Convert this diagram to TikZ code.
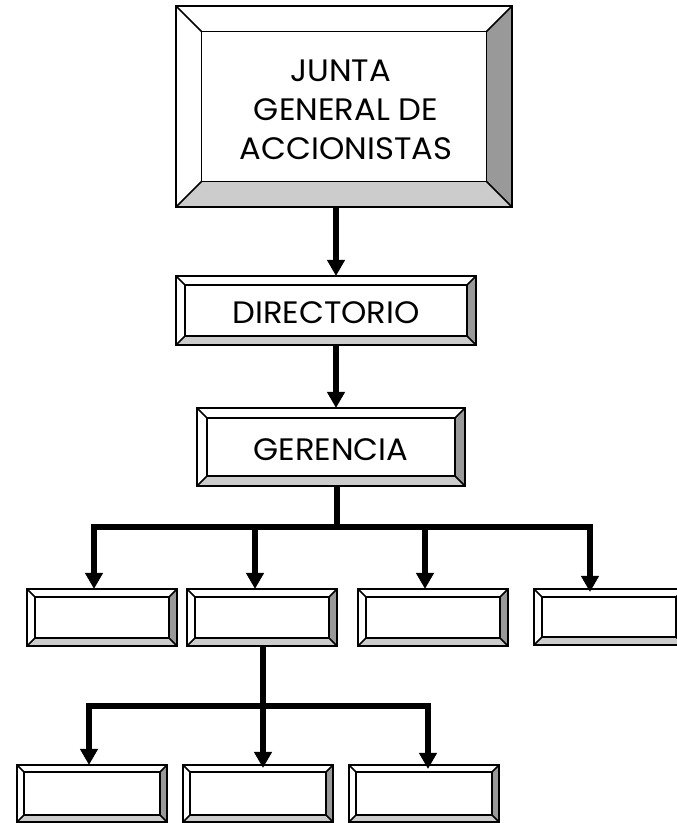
\documentclass[tikz,border=0pt]{standalone}
\usepackage{fontspec}
\setmainfont{Poppins}[FakeStretch=1.04]
\usetikzlibrary{arrows.meta,calc}
\definecolor{bevdark}{HTML}{999999}
\definecolor{bevlight}{HTML}{CCCCCC}
\tikzset{
  edge/.style={draw=black, line width=1.5pt, line join=miter},
  bbox/.style={draw=black, line width=1.5pt, fill=white, inner sep=0pt, outer sep=0pt},
  lbl/.style={inner sep=0pt, align=center, font=\fontsize{31}{38.8}\selectfont},
  conn/.style={line width=5.5pt, draw=black},
  arr/.style={conn, -{Triangle[width=17pt,length=16pt]}},
}
\newcommand\bevelfaces[2]{%
  \fill[bevdark] (#1.north east) -- (#1.south east) -- ($(#1.south east)+(-#2,#2)$) -- ($(#1.north east)+(-#2,-#2)$) -- cycle;
  \fill[bevlight] (#1.south west) -- (#1.south east) -- ($(#1.south east)+(-#2,#2)$) -- ($(#1.south west)+(#2,#2)$) -- cycle;
  \draw[edge] ($(#1.south west)+(#2,#2)$) rectangle ($(#1.north east)+(-#2,-#2)$);
  \draw[edge] (#1.north west) -- ($(#1.north west)+(#2,-#2)$);
  \draw[edge] (#1.north east) -- ($(#1.north east)+(-#2,-#2)$);
  \draw[edge] (#1.south west) -- ($(#1.south west)+(#2,#2)$);
  \draw[edge] (#1.south east) -- ($(#1.south east)+(-#2,#2)$);
  \draw[edge] (#1.south west) rectangle (#1.north east);
}
\begin{document}
\begin{tikzpicture}[x=1pt,y=1pt]
\useasboundingbox[fill=white] (0,0) rectangle (677,823);
% boxes
\node[bbox, minimum width=336pt, minimum height=201pt] (j) at (344,716.5) {};
\bevelfaces{j}{25.5}
\node[lbl] (jt) at ([xshift=2pt,yshift=-3pt]j.center) {JUNTA\kern 11pt\\GENERAL DE\\ACCIONISTAS};
\node[bbox, minimum width=300pt, minimum height=69pt] (d) at (326,512.5) {};
\bevelfaces{d}{9}
\node[lbl] (dt) at ([yshift=-2.5pt]d.center) {DIRECTORIO};
\node[bbox, minimum width=268pt, minimum height=78pt] (g) at (331,376) {};
\bevelfaces{g}{10}
\node[lbl] (gt) at ([yshift=-2.5pt]g.center) {GERENCIA};
\node[bbox, minimum width=150pt, minimum height=57pt] (m1) at (102,205.5) {};
\bevelfaces{m1}{8}
\node[bbox, minimum width=150pt, minimum height=57pt] (m2) at (262,205.5) {};
\bevelfaces{m2}{8}
\node[bbox, minimum width=150pt, minimum height=57pt] (m3) at (433,205.5) {};
\bevelfaces{m3}{8}
\node[bbox, minimum width=150pt, minimum height=56pt] (m4) at (609,206) {};
\bevelfaces{m4}{8}
\node[bbox, minimum width=150pt, minimum height=57pt] (b1) at (92,29.5) {};
\bevelfaces{b1}{7}
\node[bbox, minimum width=150pt, minimum height=57pt] (b2) at (258,29.5) {};
\bevelfaces{b2}{7}
\node[bbox, minimum width=150pt, minimum height=57pt] (b3) at (424,29.5) {};
\bevelfaces{b3}{7}
% connectors
\draw[arr] ([xshift=-8pt]j.south) -- ([xshift=10pt]d.north);
\draw[arr] ([xshift=10pt]d.south) -- ([xshift=5pt]g.north);
\coordinate (h1) at (337,296);
\coordinate (h1l) at (94,296);
\coordinate (h1r) at (590,296);
\draw[conn] ([xshift=6pt]g.south) -- (h1);
\draw[conn, line cap=rect] (h1l) -- (h1r);
\draw[arr] (h1l) -- (h1l |- m1.north);
\draw[arr] ([xshift=-7pt]m2.north |- h1) -- ([xshift=-7pt]m2.north);
\draw[arr] ([xshift=-8pt]m3.north |- h1) -- ([xshift=-8pt]m3.north);
\draw[arr] (h1r) -- ([yshift=-3pt]h1r |- m4.north);
\coordinate (h2) at (263,117);
\coordinate (h2l) at (89,117);
\coordinate (h2r) at (428,117);
\draw[conn, line cap=rect] (h2l) -- (h2r);
\draw[arr] ([xshift=1pt]m2.south) -- ([xshift=5pt,yshift=-3pt]b2.north);
\draw[arr] (h2l) -- (h2l |- b1.north);
\draw[arr] (h2r) -- ([yshift=-4pt]h2r |- b3.north);
\end{tikzpicture}
\end{document}
